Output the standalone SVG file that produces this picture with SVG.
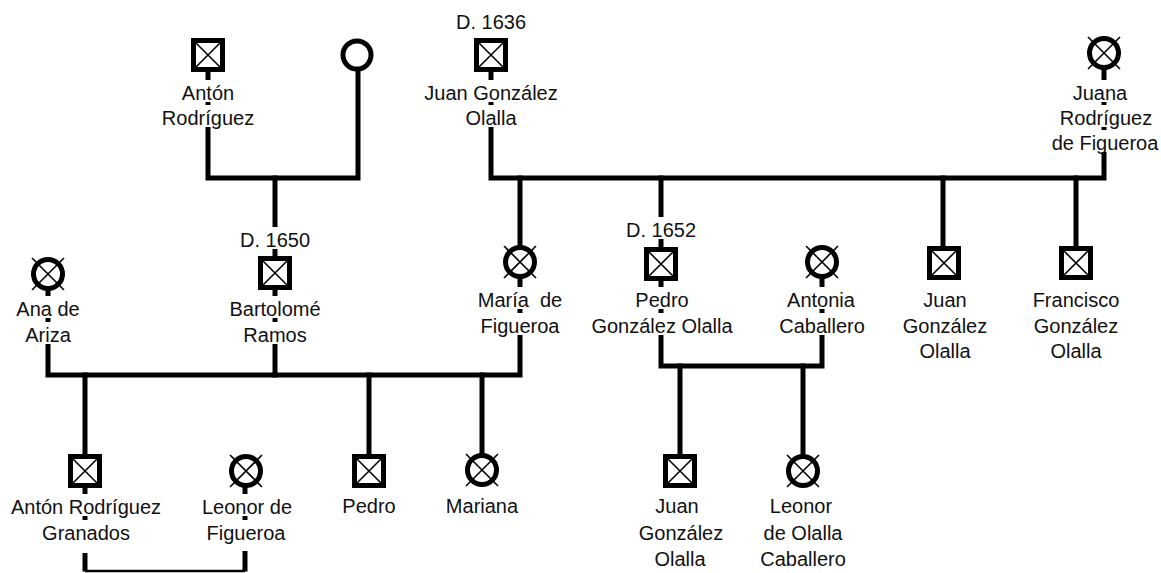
<svg xmlns="http://www.w3.org/2000/svg" width="1161" height="573" viewBox="0 0 1161 573">
  <style>
    .link { fill: none; stroke: #000; stroke-width: 5; stroke-linejoin: miter; stroke-linecap: square; }
    .thin { fill: none; stroke: #000; stroke-width: 2.5; }
    .box { fill: #fff; stroke: #000; stroke-width: 5; }
    .ring { fill: #fff; stroke: #000; stroke-width: 5; }
    .cross { stroke: #000; stroke-width: 1.6; fill: none; }
    text { font-family: "Liberation Sans", Arial, sans-serif; font-size: 20px; fill: #111; text-anchor: middle; }
    .mask { fill: #fff; }
  </style>
  <defs>
    <!-- deceased male: thick square with a cross -->
    <g id="male-d">
      <rect class="box" x="-14.5" y="-14.5" width="29" height="29"/>
      <path class="cross" d="M-12,-12 L12,12 M12,-12 L-12,12"/>
    </g>
    <!-- deceased female: thick ring struck through -->
    <g id="female-d">
      <circle class="ring" r="14.5"/>
      <path class="cross" d="M-16,-16 L16,16 M16,-16 L-16,16"/>
    </g>
    <!-- female, no status mark -->
    <g id="female">
      <circle class="ring" r="14"/>
    </g>
  </defs>

  <rect width="1161" height="573" fill="#fff"/>

  <g id="connectors">
    <path class="link" d="M208,72 V178 H358 V70"/>
    <path class="link" d="M275,178 V256"/>
    <path class="link" d="M491,72 V178 H1104 V70"/>
    <path class="link" d="M520,178 V248"/>
    <path class="link" d="M661,178 V247"/>
    <path class="link" d="M943,178 V246"/>
    <path class="link" d="M1076,178 V246"/>
    <path class="link" d="M48,291 V375 H520 V279"/>
    <path class="link" d="M275,290 V375"/>
    <path class="link" d="M85,375 V454"/>
    <path class="link" d="M369,375 V454"/>
    <path class="link" d="M482,375 V454"/>
    <path class="link" d="M661,281 V366 H822 V279"/>
    <path class="link" d="M680,366 V454"/>
    <path class="link" d="M803,366 V455"/>
    <path class="link" d="M85,488 V569"/>
    <path class="link" d="M245,488 V569"/>
    <path class="thin" d="M85,571 H245"/>
  </g>

  <!-- top generation -->
  <g id="anton-rodriguez">
    <use href="#male-d" x="208" y="55"/>
    <rect class="mask" x="196" y="80" width="24" height="22"/>
    <rect class="mask" x="196" y="105" width="24" height="22"/>
    <text x="208" y="100">Antón</text>
    <text x="208" y="125">Rodríguez</text>
  </g>

  <g id="mother-of-bartolome">
    <use href="#female" x="357" y="55"/>
  </g>

  <g id="juan-gonzalez-olalla-sr">
    <text x="491" y="29">D. 1636</text>
    <use href="#male-d" x="491" y="55"/>
    <rect class="mask" x="479" y="80" width="24" height="22"/>
    <rect class="mask" x="479" y="105" width="24" height="22"/>
    <text x="491" y="100">Juan González</text>
    <text x="491" y="125">Olalla</text>
  </g>

  <g id="juana-rodriguez-de-figueroa">
    <use href="#female-d" x="1104" y="53"/>
    <rect class="mask" x="1092" y="80" width="24" height="22"/>
    <rect class="mask" x="1092" y="105" width="24" height="22"/>
    <rect class="mask" x="1092" y="130" width="24" height="22"/>
    <text x="1100" y="100">Juana</text>
    <text x="1106" y="125">Rodríguez</text>
    <text x="1105" y="150">de Figueroa</text>
  </g>

  <!-- second generation -->
  <g id="ana-de-ariza">
    <use href="#female-d" x="48" y="274"/>
    <rect class="mask" x="36" y="296" width="24" height="22"/>
    <rect class="mask" x="36" y="322" width="24" height="22"/>
    <text x="48" y="316">Ana de</text>
    <text x="48" y="342">Ariza</text>
  </g>

  <g id="bartolome-ramos">
    <rect class="mask" x="263" y="227" width="24" height="22"/>
    <text x="275" y="247">D. 1650</text>
    <use href="#male-d" x="275" y="273"/>
    <rect class="mask" x="263" y="296" width="24" height="22"/>
    <rect class="mask" x="263" y="322" width="24" height="22"/>
    <text x="275" y="316">Bartolomé</text>
    <text x="275" y="342">Ramos</text>
  </g>

  <g id="maria-de-figueroa">
    <use href="#female-d" x="520" y="262"/>
    <rect class="mask" x="508" y="287" width="24" height="22"/>
    <rect class="mask" x="508" y="313" width="24" height="22"/>
    <text x="520" y="307">María&#160; de</text>
    <text x="520" y="333">Figueroa</text>
  </g>

  <g id="pedro-gonzalez-olalla">
    <rect class="mask" x="649" y="217" width="24" height="22"/>
    <text x="661" y="237">D. 1652</text>
    <use href="#male-d" x="661" y="264"/>
    <rect class="mask" x="649" y="287" width="24" height="22"/>
    <rect class="mask" x="649" y="313" width="24" height="22"/>
    <text x="662" y="307">Pedro</text>
    <text x="662" y="333">González Olalla</text>
  </g>

  <g id="antonia-caballero">
    <use href="#female-d" x="822" y="262"/>
    <rect class="mask" x="810" y="287" width="24" height="22"/>
    <rect class="mask" x="810" y="313" width="24" height="22"/>
    <text x="821" y="307">Antonia</text>
    <text x="822" y="333">Caballero</text>
  </g>

  <g id="juan-gonzalez-olalla">
    <use href="#male-d" x="944" y="263"/>
    <text x="945" y="307">Juan</text>
    <text x="945" y="333">González</text>
    <text x="945" y="358">Olalla</text>
  </g>

  <g id="francisco-gonzalez-olalla">
    <use href="#male-d" x="1076" y="263"/>
    <text x="1076" y="307">Francisco</text>
    <text x="1076" y="333">González</text>
    <text x="1076" y="358">Olalla</text>
  </g>

  <!-- third generation -->
  <g id="anton-rodriguez-granados">
    <use href="#male-d" x="85" y="471"/>
    <rect class="mask" x="73" y="494" width="24" height="22"/>
    <rect class="mask" x="73" y="520" width="24" height="33"/>
    <text x="86" y="514">Antón Rodríguez</text>
    <text x="86" y="540">Granados</text>
  </g>

  <g id="leonor-de-figueroa">
    <use href="#female-d" x="246" y="471"/>
    <rect class="mask" x="233" y="494" width="24" height="22"/>
    <rect class="mask" x="233" y="520" width="24" height="31"/>
    <text x="247" y="514">Leonor de</text>
    <text x="246" y="540">Figueroa</text>
  </g>

  <g id="pedro">
    <use href="#male-d" x="369" y="471"/>
    <text x="369" y="513">Pedro</text>
  </g>

  <g id="mariana">
    <use href="#female-d" x="482" y="470"/>
    <text x="482" y="513">Mariana</text>
  </g>

  <g id="juan-gonzalez-olalla-jr">
    <use href="#male-d" x="680" y="471"/>
    <text x="677" y="513">Juan</text>
    <text x="681" y="540">González</text>
    <text x="680" y="566">Olalla</text>
  </g>

  <g id="leonor-de-olalla-caballero">
    <use href="#female-d" x="803" y="471"/>
    <text x="801" y="513">Leonor</text>
    <text x="803" y="540">de Olalla</text>
    <text x="803" y="566">Caballero</text>
  </g>
</svg>
